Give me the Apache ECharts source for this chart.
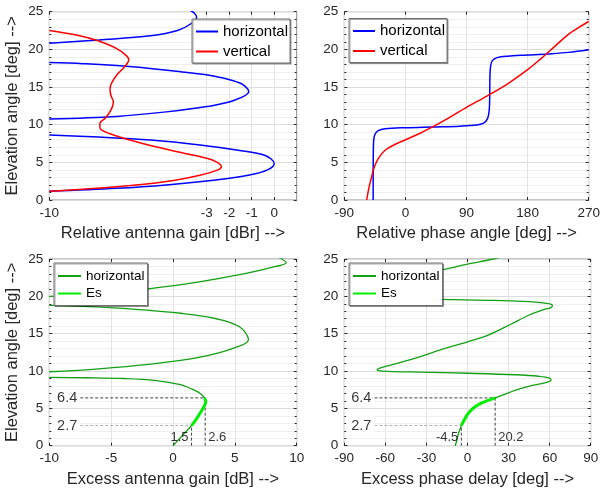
<!DOCTYPE html>
<html><head><meta charset="utf-8">
<script src="https://cdn.jsdelivr.net/npm/echarts@6/dist/echarts.min.js"></script>
<style>html,body{margin:0;padding:0;background:#fff}#c{width:603px;height:493px}</style>
</head><body><div id="c"></div>
<script>
// ---------------- data ----------------
const BR = ['-', '-']; // line break (curve leaves the plot)
const elevTicks = [0, 5, 10, 15, 20, 25];
const gainTicks = [-10, -3, -2, -1, 0];
const phaseTicks = [-90, 0, 90, 180, 270];
const excessGainTicks = [-10, -5, 0, 5, 10];
const excessPhaseTicks = [-90, -60, -30, 0, 30, 60, 90];

// top-left: relative antenna gain [dBr] vs elevation [deg]
const relGainHorizontal = [
  [-10, 1.15], [-7, 1.55], [-4.8, 2.0], [-2.6, 2.66], [-1.1, 3.32], [-0.3, 4.0], [0, 4.85],
  [-0.4, 5.9], [-1.6, 6.6], [-3.3, 7.3], [-5.5, 7.95], [-7.8, 8.35], [-10, 8.63], BR,
  [-10, 10.76], [-7, 11.1], [-4.8, 11.7], [-3.0, 12.4], [-1.8, 13.2], [-1.13, 14.4],
  [-1.5, 15.5], [-2.6, 16.4], [-4.1, 17.0], [-6.3, 17.7], [-8.5, 18.1], [-10, 18.25], BR,
  [-10, 20.8], [-7.8, 21.25], [-5.5, 21.8], [-4.3, 22.5], [-3.65, 23.5], [-3.45, 24.3],
  [-3.55, 24.8], [-3.75, 25.2]
];
const relGainVertical = [
  [-10, 1.15], [-7, 1.75], [-4.8, 2.45], [-3.3, 3.3], [-2.5, 4.0], [-2.35, 4.45], [-2.6, 5.1],
  [-3.0, 5.55], [-4.3, 6.4], [-6.1, 7.7], [-7.3, 8.8], [-7.75, 9.6], [-7.75, 10.2],
  [-7.5, 10.9], [-7.25, 12.0], [-7.15, 13.0], [-7.25, 13.8], [-7.3, 14.6], [-7.25, 15.4],
  [-7.0, 16.6], [-6.65, 17.7], [-6.47, 18.6], [-6.55, 19.1], [-7.0, 20.1], [-7.9, 21.2],
  [-8.8, 21.9], [-10, 22.5]
];

// top-right: relative phase angle [deg] vs elevation [deg]
const relPhaseHorizontal = [
  [-47.5, 0], [-47.5, 3], [-47.3, 6], [-46.8, 7.8], [-45, 8.7], [-40, 9.2], [-30, 9.45],
  [0, 9.6], [40, 9.7], [80, 9.8], [105, 9.95], [115, 10.2], [121, 10.8], [123.5, 12],
  [124.2, 14], [124.5, 16.5], [125.5, 17.8], [128, 18.5], [135, 18.9], [150, 19.1],
  [180, 19.25], [210, 19.4], [240, 19.6], [270, 19.95]
];
const relPhaseVertical = [
  [-57, 0], [-54, 1.5], [-50, 3.0], [-46, 4.3], [-40, 5.5], [-30, 6.6], [-15, 7.4], [0, 8.0],
  [20, 8.8], [40, 9.7], [60, 10.7], [90, 12.3], [120, 13.8], [150, 15.4], [180, 17.3],
  [200, 18.8], [220, 20.4], [240, 22.0], [255, 22.9], [270, 23.7]
];

// bottom-left: excess antenna gain [dB] vs elevation [deg]
const excessGainHorizontal = [
  [0, 0], [0.5, 0.9], [1.0, 1.8], [1.5, 2.7], [1.9, 3.6], [2.25, 4.5], [2.55, 5.4],
  [2.65, 5.9], [2.55, 6.4], [2.2, 7.0], [1.5, 7.6], [0.5, 8.2], [-1.5, 8.75], [-4, 9.0],
  [-7, 9.1], [-10, 9.15], BR,
  [-10, 9.9], [-6, 10.3], [-2, 10.9], [2, 11.8], [4.8, 13.0], [6.1, 14.2], [5.4, 15.9],
  [3.5, 17.0], [0.8, 17.7], [-3.3, 18.3], [-7.3, 18.65], [-10, 18.8], BR,
  [-10, 20.0], [-6, 20.35], [-2, 21.0], [2, 21.9], [6, 23.1], [8.3, 24.0], [9.15, 24.5],
  [8.8, 25], [8.4, 25.3]
];
const excessGainEs = [
  [1.5, 2.7], [1.9, 3.6], [2.25, 4.5], [2.55, 5.4], [2.65, 5.9], [2.55, 6.4]
];

// bottom-right: excess phase delay [deg] vs elevation [deg]
const excessPhaseHorizontal = [
  [-9, 0], [-8, 0.6], [-6.8, 1.5], [-5.5, 2.2], [-4.5, 2.7], [-2.5, 3.4], [0, 4.2], [4, 5.0],
  [8, 5.5], [14, 6.0], [20.2, 6.4], [28, 6.95], [38, 7.6], [48, 8.1], [57, 8.45], [61, 8.75],
  [60, 9.05], [52, 9.3], [35, 9.5], [0, 9.7], [-35, 9.85], [-58, 9.95], [-65, 10.05],
  [-66, 10.2], [-63, 10.45], [-50, 11.1], [-35, 11.9], [-17, 13.0], [0, 13.9], [15, 14.8],
  [32, 16.3], [45, 17.5], [55, 18.2], [61, 18.5], [62, 18.8], [58, 19.05], [45, 19.3],
  [20, 19.45], [-10, 19.55], [-45, 19.8], [-62, 20.3], [-68, 21.0], [-62, 21.9],
  [-45, 22.7], [-20, 23.5], [0, 24.3], [19, 25.0], [25, 25.3]
];
const excessPhaseEs = [
  [-4.5, 2.7], [-2.5, 3.4], [0, 4.2], [4, 5.0], [8, 5.5], [14, 6.0], [20.2, 6.4]
];

// Es range markers
const esLevels = [2.7, 6.4];
const esGainMarks = [1.5, 2.6];
const esPhaseMarks = [-4.5, 20.2];

// ---------------- chart ----------------
const F = 'Liberation Sans, Arial, sans-serif';
const TXT = '#262626';
const BLUE = '#0000ff', RED = '#ff0000', DGREEN = '#13a013', LGREEN = '#00ee00';
const LEG = { hTL: 'horizontal', vTL: 'vertical', hTR: 'horizontal', vTR: 'vertical',
  hBL: 'horizontal', esBL: 'Es', hBR: 'horizontal', esBR: 'Es' };

const grids = [
  { left: 49.3, top: 11.7, width: 247.4, height: 188.3 },
  { left: 344.3, top: 11.7, width: 246.4, height: 188.3 },
  { left: 49.3, top: 259, width: 247.4, height: 186.7 },
  { left: 344.3, top: 259, width: 246.4, height: 186.7 }
].map(g => Object.assign(g, { show: true, borderColor: '#8c8c8c', borderWidth: 1, containLabel: false }));

function xMain(gi, ticks, name, custom) {
  const min = ticks[0], max = custom ? 1 : ticks[ticks.length - 1];
  const o = {
    type: 'value', gridIndex: gi, position: 'bottom', min: min, max: max,
    interval: custom ? 1 : ticks[1] - ticks[0],
    name: name, nameLocation: 'middle', nameGap: 25,
    nameTextStyle: { fontSize: 16.5, color: TXT, fontFamily: F },
    axisLine: { show: false, onZero: false },
    axisTick: { show: true, inside: true, length: 3, lineStyle: { color: TXT } },
    axisLabel: { margin: 6, fontSize: 13.5, color: TXT, fontFamily: F, showMinLabel: true, showMaxLabel: true },
    splitLine: { show: true, lineStyle: { color: '#e3e3e3', width: 1 } }
  };
  if (custom) { o.axisTick.customValues = ticks; o.axisLabel.customValues = ticks; }
  return o;
}
function xTop(gi, ticks, custom) {
  const o = {
    type: 'value', gridIndex: gi, position: 'top', min: ticks[0], max: custom ? 1 : ticks[ticks.length - 1],
    interval: custom ? 1 : ticks[1] - ticks[0],
    axisLine: { show: false, onZero: false }, axisLabel: { show: false }, splitLine: { show: false },
    axisTick: { show: true, inside: true, length: 3, lineStyle: { color: TXT } }
  };
  if (custom) { o.axisTick.customValues = ticks; }
  return o;
}
function yMain(gi, name) {
  return {
    type: 'value', gridIndex: gi, position: 'left', min: elevTicks[0], max: elevTicks[elevTicks.length - 1],
    interval: elevTicks[1] - elevTicks[0],
    name: name || '', nameLocation: 'middle', nameGap: 28, nameRotate: 90,
    nameTextStyle: { fontSize: 16.5, color: TXT, fontFamily: F },
    axisLine: { show: false, onZero: false },
    axisTick: { show: true, inside: true, length: 3, lineStyle: { color: TXT } },
    minorTick: { show: true, splitNumber: 5, length: 2, lineStyle: { color: TXT } },
    axisLabel: { margin: 6, fontSize: 13.5, color: TXT, fontFamily: F },
    splitLine: { show: true, lineStyle: { color: '#dcdcdc' } },
    minorSplitLine: { show: true, lineStyle: { color: '#efefef' } }
  };
}
function yRight(gi) {
  return {
    type: 'value', gridIndex: gi, position: 'right', min: elevTicks[0], max: elevTicks[elevTicks.length - 1],
    interval: elevTicks[1] - elevTicks[0],
    axisLine: { show: false, onZero: false }, axisLabel: { show: false }, splitLine: { show: false },
    axisTick: { show: true, inside: true, length: 3, lineStyle: { color: TXT } },
    minorTick: { show: true, splitNumber: 5, length: 2, lineStyle: { color: TXT } }
  };
}

function curve(name, xi, data, color, width, z) {
  return { type: 'line', name: name, xAxisIndex: xi, yAxisIndex: xi, data: data,
    symbol: 'none', showSymbol: false, smooth: 0.35, connectNulls: false, clip: true, z: z || 2,
    lineStyle: { color: color, width: width }, itemStyle: { color: color }, emphasis: { disabled: true } };
}
function dashed(xi, pts, color) {
  return { type: 'line', xAxisIndex: xi, yAxisIndex: xi, data: pts, symbol: 'none', z: 3,
    connectNulls: false, silent: true, lineStyle: { color: color, width: 1, type: [3, 2] } };
}
function textMarks(xi, items) {
  return { type: 'scatter', xAxisIndex: xi, yAxisIndex: xi, symbolSize: 0, z: 6, silent: true,
    data: items.map(it => ({ value: [it.x, it.y], label: Object.assign({ show: true,
      formatter: it.text, color: '#000', fontFamily: F }, it.label) })) };
}
function levelLabel(x, y) {
  return { x: x, y: y, text: y.toFixed(1), label: { position: 'left', distance: 0, fontSize: 14.5,
    backgroundColor: '#fff', padding: [2, 3, 2, 5] } };
}

// annotation geometry (bottom row)
const gainLabelX = -7.5, phaseLabelX = -68, valueLabelY = 1.05;
const gainDash = [
  [gainLabelX, esLevels[1]], [esGainMarks[1], esLevels[1]], BR,
  [esGainMarks[1], 0], [esGainMarks[1], esLevels[1]], BR,
  [esGainMarks[0], 0], [esGainMarks[0], esLevels[0]]
];
const gainDashLight = [[gainLabelX, esLevels[0]], [esGainMarks[0], esLevels[0]]];
const phaseDash = [
  [phaseLabelX, esLevels[1]], [esPhaseMarks[1], esLevels[1]], BR,
  [esPhaseMarks[1], 0], [esPhaseMarks[1], esLevels[1]], BR,
  [esPhaseMarks[0], 0], [esPhaseMarks[0], esLevels[0]]
];
const phaseDashLight = [[phaseLabelX, esLevels[0]], [esPhaseMarks[0], esLevels[0]]];

function legendAt(left, top, names, fs, pad, iw, ih, gap) {
  return { show: true, data: names, left: left, top: top, orient: 'vertical',
    icon: 'inherit', itemStyle: { opacity: 0 },
    itemWidth: iw, itemHeight: ih, itemGap: gap, padding: pad,
    backgroundColor: '#fff', borderColor: '#707070', borderWidth: 1,
    shadowColor: 'rgba(0,0,0,0.35)', shadowOffsetX: 1, shadowOffsetY: 1, shadowBlur: 0,
    selectedMode: false, formatter: n => LEG[n],
    textStyle: { fontSize: fs, color: '#000', fontFamily: F } };
}

const option = {
  animation: false,
  backgroundColor: '#fff',
  grid: grids,
  xAxis: [
    xMain(0, gainTicks, 'Relative antenna gain [dBr] -->', true),
    xMain(1, phaseTicks, 'Relative phase angle [deg] -->'),
    xMain(2, excessGainTicks, 'Excess antenna gain [dB] -->'),
    xMain(3, excessPhaseTicks, 'Excess phase delay [deg] -->'),
    xTop(0, gainTicks, true), xTop(1, phaseTicks), xTop(2, excessGainTicks), xTop(3, excessPhaseTicks)
  ],
  yAxis: [
    yMain(0, 'Elevation angle [deg] -->'), yMain(1), yMain(2, 'Elevation angle [deg] -->'), yMain(3),
    yRight(0), yRight(1), yRight(2), yRight(3)
  ],
  legend: [
    legendAt(192, 19, ['hTL', 'vTL'], 15, [5, 2, 4, 3], 22, 14, 5),
    legendAt(349, 18.5, ['hTR', 'vTR'], 15, [5, 2, 4, 3], 22, 14, 5),
    legendAt(54, 263, ['hBL', 'esBL'], 13.5, [6, 3, 5, 3], 23, 13, 3.5),
    legendAt(349, 263, ['hBR', 'esBR'], 13.5, [6, 3, 5, 3], 23, 13, 3.5)
  ],
  series: [
    curve('hTL', 0, relGainHorizontal, BLUE, 1.5),
    curve('vTL', 0, relGainVertical, RED, 1.5),
    curve('hTR', 1, relPhaseHorizontal, BLUE, 1.5),
    curve('vTR', 1, relPhaseVertical, RED, 1.5),
    dashed(2, gainDashLight, '#b0b0b0'),
    dashed(2, gainDash, '#404040'),
    dashed(3, phaseDashLight, '#b0b0b0'),
    dashed(3, phaseDash, '#404040'),
    curve('hBL', 2, excessGainHorizontal, DGREEN, 1.3),
    curve('esBL', 2, excessGainEs, LGREEN, 3, 3),
    curve('hBR', 3, excessPhaseHorizontal, DGREEN, 1.3),
    curve('esBR', 3, excessPhaseEs, LGREEN, 3, 3),
    textMarks(2, [
      levelLabel(gainLabelX, esLevels[1]), levelLabel(gainLabelX, esLevels[0]),
      { x: esGainMarks[0], y: valueLabelY, text: esGainMarks[0].toFixed(1), label: { position: 'left', distance: 3, fontSize: 13 } },
      { x: esGainMarks[1], y: valueLabelY, text: esGainMarks[1].toFixed(1), label: { position: 'right', distance: 3, fontSize: 13 } }
    ]),
    textMarks(3, [
      levelLabel(phaseLabelX, esLevels[1]), levelLabel(phaseLabelX, esLevels[0]),
      { x: esPhaseMarks[0], y: valueLabelY, text: esPhaseMarks[0].toFixed(1), label: { position: 'left', distance: 3, fontSize: 13 } },
      { x: esPhaseMarks[1], y: valueLabelY, text: esPhaseMarks[1].toFixed(1), label: { position: 'right', distance: 3, fontSize: 13 } }
    ])
  ]
};

const chart = echarts.init(document.getElementById('c'), null, { renderer: 'canvas' });
chart.setOption(option);
</script>
</body></html>
